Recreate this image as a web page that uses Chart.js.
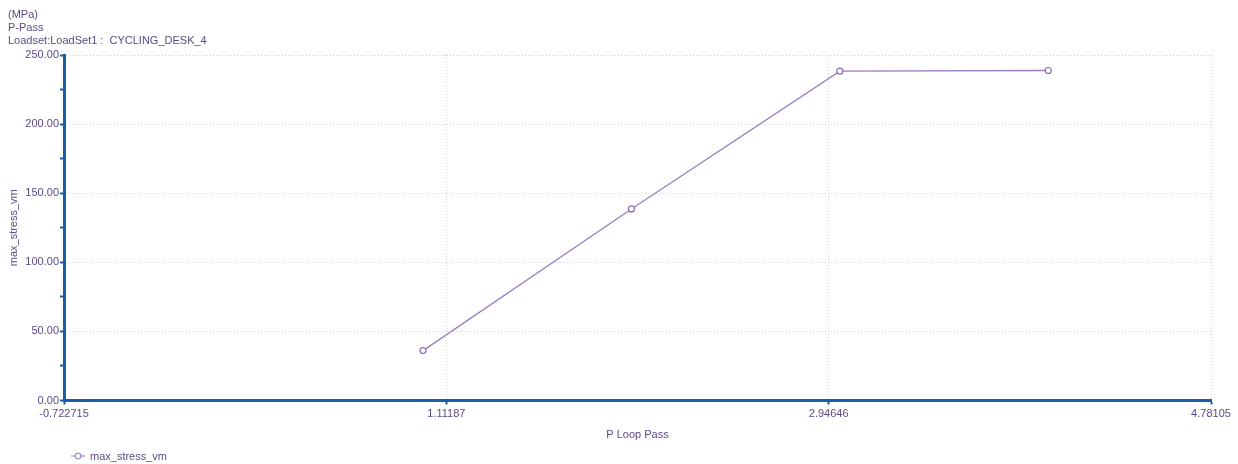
<!DOCTYPE html>
<html>
<head>
<meta charset="utf-8">
<script src="https://cdn.jsdelivr.net/npm/chart.js@4/dist/chart.umd.min.js"></script>
<style>
  body { margin: 0; background: #fff; font-family: "Liberation Sans", Arial, sans-serif; }
  #wrap { position: relative; width: 1238px; height: 464px; }
  #head { position: absolute; left: 8px; top: 8px; font-size: 11px; line-height: 13px; color: #5c4a86; }
  #legend { position: absolute; left: 70px; top: 450px; font-size: 11px; color: #5c4a86; display: flex; align-items: center; }
  #legend svg { margin-right: 4px; }
</style>
</head>
<body>
<div id="wrap">
  <canvas id="chartStress" width="1238" height="464"></canvas>
  <div id="head">(MPa)<br>P-Pass<br>Loadset:LoadSet1 :&nbsp; CYCLING_DESK_4</div>
  <div id="legend">
    <svg width="16" height="10"><line x1="1" y1="5" x2="15" y2="5" stroke="#9a7fc0" stroke-width="1"/><circle cx="8" cy="5" r="3" fill="#fff" stroke="#8a6cb4" stroke-width="1"/></svg>
    <span>max_stress_vm</span>
  </div>
</div>
<script>
// data
var passes = [1, 2, 3, 4];
var maxStressVm = [36.1, 138.6, 238.3, 238.8];
var xTicks = [-0.722715, 1.11187, 2.94646, 4.78105];
var xTickLabels = ['-0.722715', '1.11187', '2.94646', '4.78105'];

var textColor = '#5c4a86';
var axisColor = '#1b5ea8';
var gridColor = '#d2d2d2';

var ctx = document.getElementById('chartStress').getContext('2d');

var myChart = new Chart(ctx, {
    type: 'line',
    data: {
        datasets: [{
            label: 'max_stress_vm',
            data: passes.map(function (p, i) { return { x: p, y: maxStressVm[i] }; }),
            borderColor: '#9a7fc0',
            borderWidth: 1.3,
            pointRadius: 3,
            pointBorderWidth: 1.2,
            pointBorderColor: '#8a6cb4',
            pointBackgroundColor: '#fff',
            tension: 0
        }]
    },
    options: {
        responsive: false,
        animation: false,
        layout: { padding: { left: 0, right: 27, top: 55, bottom: 0 } },
        plugins: { legend: { display: false }, tooltip: { enabled: false } },
        scales: {
            x: {
                type: 'linear',
                min: xTicks[0],
                max: xTicks[xTicks.length - 1],
                afterBuildTicks: function (scale) {
                    scale.ticks = xTicks.map(function (v) { return { value: v }; });
                },
                afterFit: function (scale) { scale.height = 63.5; },
                ticks: {
                    color: textColor,
                    font: { size: 11, family: 'Liberation Sans' },
                    maxRotation: 0,
                    autoSkip: false,
                    padding: 3,
                    callback: function (v, i) { return xTickLabels[i]; }
                },
                grid: { color: gridColor, tickColor: axisColor, tickLength: 4, tickWidth: 2 },
                border: { color: axisColor, width: 3, dash: [1, 2] },
                title: {
                    display: true,
                    text: 'P Loop Pass',
                    color: textColor,
                    font: { size: 11, family: 'Liberation Sans' },
                    padding: { top: 0, bottom: 22 }
                }
            },
            y: {
                min: 0,
                max: 250,
                afterFit: function (scale) { scale.width = 64; },
                ticks: {
                    stepSize: 25,
                    color: textColor,
                    font: { size: 11, family: 'Liberation Sans' },
                    padding: 1,
                    callback: function (v) { return v % 50 === 0 ? v.toFixed(2) : ''; }
                },
                grid: {
                    color: function (c) { return c.tick && c.tick.value % 50 === 0 ? gridColor : 'rgba(0,0,0,0)'; },
                    tickColor: axisColor,
                    tickLength: 4,
                    tickWidth: 2
                },
                border: { color: axisColor, width: 3, dash: [1, 2] },
                title: {
                    display: true,
                    text: 'max_stress_vm',
                    color: textColor,
                    font: { size: 11, family: 'Liberation Sans' },
                    padding: { top: 7, bottom: 0 }
                }
            }
        }
    }
});
</script>
</body>
</html>
